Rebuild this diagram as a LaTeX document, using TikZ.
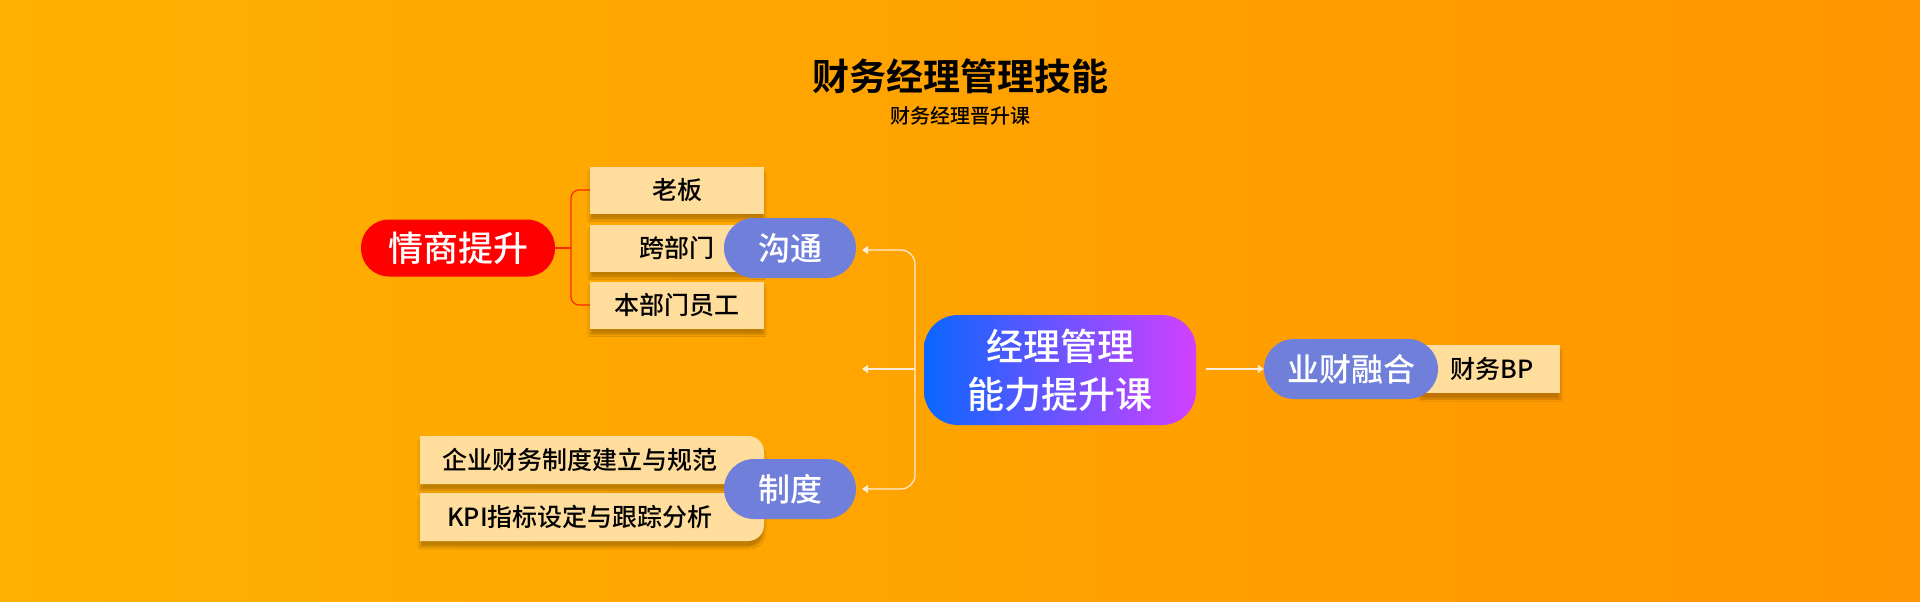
\documentclass[tikz,border=0pt]{standalone}
\usepackage{fontspec}
\setmainfont{Noto Sans CJK SC Medium}
\newfontfamily\cjkb{Noto Sans CJK SC Bold}
\usetikzlibrary{arrows.meta,shadows.blur}
\definecolor{bgA}{HTML}{FFB000}
\definecolor{bgB}{HTML}{FF9500}
\definecolor{pill}{HTML}{7080DA}
\definecolor{boxc}{HTML}{FFDD9C}
\begin{document}
\begin{tikzpicture}[x=1pt,y=-1pt,
  shad/.style={blur shadow={shadow blur steps=6,shadow xshift=0pt,shadow yshift=-6pt,shadow opacity=25}},
  lbox/.style={fill=boxc,minimum height=47pt,inner sep=0pt,font=\fontsize{25}{27}\selectfont,text=black,shad},
  pillnode/.style={fill=pill,rounded corners=30pt,minimum width=132pt,minimum height=60pt,inner sep=0pt,text=white,font=\fontsize{32}{34}\selectfont},
  conn/.style={draw=white!85!orange,line width=1.2pt},
  tip/.style={-{Triangle[width=8pt,length=6pt]}}]
\shade[left color=bgA,right color=bgB] (0,0) rectangle (1920,602);
\useasboundingbox (0,0) rectangle (1920,602);
\node[font=\cjkb\fontsize{37}{39}\selectfont] (t) at (960,76) {财务经理管理技能};
\node[font=\fontsize{20}{22}\selectfont] (st) at (960,116) {财务经理晋升课};
% top branch
\node[lbox,minimum width=174pt] (lb) at (677,190) {老板};
\node[lbox,minimum width=174pt,text width=150pt,align=left] (kb) at (677,248) {\hspace*{37pt}跨部门};
\node[lbox,minimum width=174pt] (bb) at (677,305) {本部门员工};
\node[fill=red,rounded corners=28pt,minimum width=194pt,minimum height=57pt,inner sep=0pt,text=white,font=\fontsize{35}{36}\selectfont] (eq) at (458,248) {情商提升};
\coordinate (br) at (571,248);
\draw[red!70!orange,line width=1.2pt] (eq.east) -- (br);
\draw[red!70!orange,line width=1.2pt,rounded corners=8pt] (lb.west) -| (br) |- (bb.west);
\node[pillnode] (gt) at (790,248) {沟通};
% bottom branch
\fill[boxc,shad] (420,436) -- (748,436) .. controls (757,436) and (764,443) .. (764,452) -- (764,484) -- (420,484) -- cycle;
\node[inner sep=0pt,font=\fontsize{25}{27}\selectfont] (qy) at (580,460) {企业财务制度建立与规范};
\fill[boxc,shad] (420,493) -- (764,493) -- (764,525) .. controls (764,534) and (757,541) .. (748,541) -- (420,541) -- cycle;
\node[inner sep=0pt,font=\fontsize{25}{27}\selectfont] (kpi) at (580,517) {KPI指标设定与跟踪分析};
\node[pillnode] (zd) at (790,489) {制度};
% center
\shade[rounded corners=34pt,left color={rgb,255:red,10;green,102;blue,255},right color={rgb,255:red,210;green,64;blue,255}] (924,315) rectangle (1196,425);
\node[text=white,align=center,font=\fontsize{37}{48}\selectfont] (c) at (1060,370) {经理管理\\能力提升课};
% trunk
\coordinate (tr) at (915,369);
\coordinate (mt) at (862,369);
\coordinate (gte) at (862,250);
\coordinate (zde) at (862,489);
\draw[conn,tip] (tr) -- (mt);
\draw[conn,tip,rounded corners=14pt] (tr) |- (gte);
\draw[conn,tip,rounded corners=14pt] (tr) |- (zde);
% right
\node[lbox,minimum width=140pt,minimum height=48pt] (bp) at (1490,369) {};
\node[inner sep=0pt,font=\fontsize{25}{27}\selectfont] (bpt) at (1492,369) {财务BP};
\node[pillnode,minimum width=174pt] (yc) at (1351,369) {业财融合};
\coordinate (cs) at (1206,369);
\draw[conn,tip] (cs) -- (yc.west);
\end{tikzpicture}
\end{document}
